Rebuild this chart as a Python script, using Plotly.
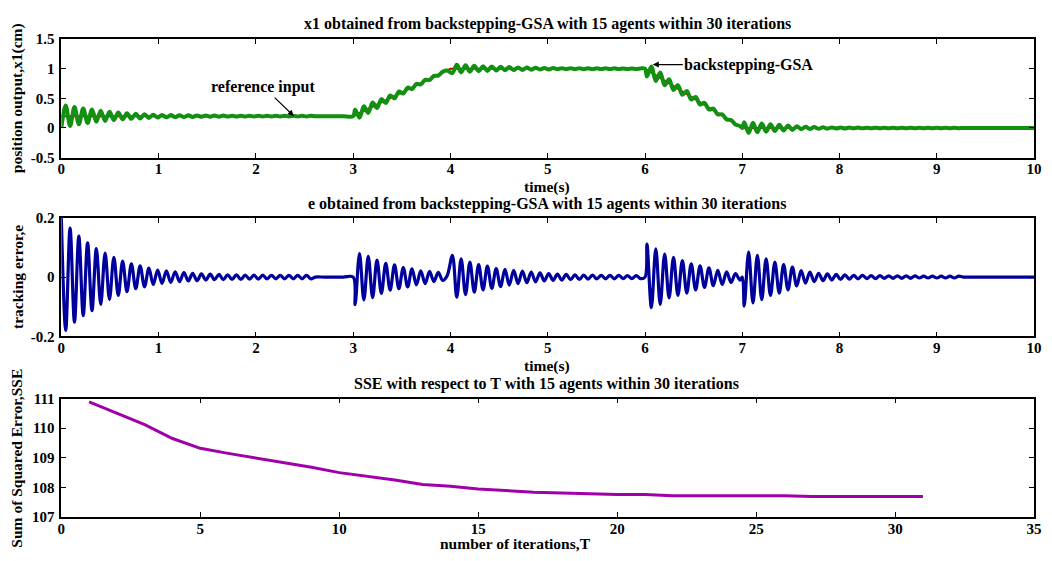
import numpy as np
import plotly.graph_objects as go

W, H = 1052, 561

# ---------------- reference input (set-point) ----------------
ref_t = [0, 3, 4, 6, 7, 10]
ref_v = [0.2, 0.2, 1.0, 1.0, 0.0, 0.0]

# ---------------- tracking error e: extrema ----------------
# each burst: start time, spacing between successive extrema (half period), extremum values
seg1_start, seg1_step = 0.0, 0.045
seg1_vals = [0.2, -0.18, 0.165, -0.152, 0.138, -0.13, 0.116, -0.113, 0.096, -0.092,
             0.081, -0.075, 0.067, -0.062, 0.054, -0.049, 0.045, -0.039, 0.038, -0.033,
             0.030, -0.025, 0.024, -0.021, 0.021, -0.018, 0.018, -0.015, 0.015, -0.013,
             0.013, -0.012, 0.011, -0.010, 0.010, -0.009, 0.009, -0.009, 0.008, -0.008,
             0.008, -0.008, 0.007, -0.007, 0.007, -0.007, 0.007, -0.006, 0.006, -0.006,
             0.006, -0.006, 0.006, -0.006, 0.006, -0.006, 0.006, -0.006, 0.0]

seg2_start, seg2_step = 3.02, 0.045
seg2_vals = [-0.093, 0.079, -0.077, 0.070, -0.069, 0.057, -0.055, 0.046, -0.044, 0.041,
             -0.039, 0.032, -0.033, 0.028, -0.026, 0.021, -0.022, 0.019, -0.015, 0.016,
             -0.011, 0.004]

seg3_start, seg3_step = 4.02, 0.045
seg3_vals = [0.073, -0.068, 0.062, -0.059, 0.051, -0.051, 0.042, -0.043, 0.037, -0.038,
             0.029, -0.032, 0.026, -0.027, 0.023, -0.022, 0.020, -0.019, 0.017, -0.016,
             0.014, -0.013, 0.012, -0.011, 0.010, -0.010, 0.009, -0.009, 0.008, -0.008,
             0.007, -0.007, 0.007, -0.006, 0.006, -0.006, 0.006, -0.006, 0.006, -0.005,
             0.005, -0.005, 0.005, -0.005]

seg4_start, seg4_step = 6.02, 0.0455
seg4_vals = [0.111, -0.103, 0.095, -0.092, 0.078, -0.070, 0.067, -0.062, 0.056, -0.054,
             0.045, -0.043, 0.038, -0.035, 0.031, -0.029, 0.023, -0.025, 0.018, -0.018,
             0.012, -0.010]

seg5_start, seg5_step = 7.02, 0.045
seg5_vals = [-0.098, 0.084, -0.087, 0.073, -0.076, 0.062, -0.062, 0.051, -0.054, 0.042,
             -0.043, 0.034, -0.030, 0.022, -0.020, 0.017, -0.015, 0.013, -0.012, 0.011,
             -0.010, 0.009, -0.008, 0.008, -0.007, 0.006, -0.006, 0.006, -0.005, 0.005,
             -0.005, 0.005, -0.004, 0.004, -0.004, 0.004, -0.004, 0.004, -0.004, 0.004,
             -0.003, 0.003, -0.003, 0.003, -0.003, 0.003, -0.003, 0.003, -0.003, 0.003, 0.0]

# quiet (flat, zero-error) stretches between bursts (time, value)
quiet_t = [2.7, 2.8, 2.9, 3.0, 6.0, 7.0, 9.4, 9.6, 9.8, 10.0]
quiet_v = [0.0, 0.0, 0.0, 0.0, 0.0, 0.0, 0.0, 0.0, 0.0, 0.0]

# ---------------- SSE versus iteration ----------------
sse_T = list(range(1, 32))
sse_v = [110.89, 110.50, 110.12, 109.65, 109.32, 109.15, 108.99, 108.85, 108.68, 108.50,
         108.38, 108.25, 108.10, 108.04, 107.95, 107.89, 107.84, 107.81, 107.78, 107.76,
         107.76, 107.72, 107.72, 107.72, 107.72, 107.72, 107.69, 107.69, 107.69, 107.69,
         107.69]

# ---------------- tick labels ----------------
x_time_ticks = [0, 1, 2, 3, 4, 5, 6, 7, 8, 9, 10]
x_time_text = ["0", "1", "2", "3", "4", "5", "6", "7", "8", "9", "10"]
y1_ticks = [-0.5, 0, 0.5, 1, 1.5]
y1_text = ["-0.5", "0", "0.5", "1", "1.5"]
y2_ticks = [-0.2, 0, 0.2]
y2_text = ["-0.2", "0", "0.2"]
x3_ticks = [0, 5, 10, 15, 20, 25, 30, 35]
x3_text = ["0", "5", "10", "15", "20", "25", "30", "35"]
y3_ticks = [107, 108, 109, 110, 111]
y3_text = ["107", "108", "109", "110", "111"]

# ---------------- assemble error series ----------------
pts = []
for st, sp, vals in [(seg1_start, seg1_step, seg1_vals), (seg2_start, seg2_step, seg2_vals),
                     (seg3_start, seg3_step, seg3_vals), (seg4_start, seg4_step, seg4_vals),
                     (seg5_start, seg5_step, seg5_vals)]:
    for k, v in enumerate(vals):
        pts.append((st + sp * k, v))
pts += list(zip(quiet_t, quiet_v))
pts.sort(key=lambda p: p[0])
e_t = np.array([p[0] for p in pts])
e_v = np.array([p[1] for p in pts])
# position output x1 = reference - e
x1_v = np.interp(e_t, ref_t, ref_v) - e_v

FONT = "Liberation Serif"

def px_x(x):
    return x / W

def px_y(y):
    return 1 - y / H

xdom = [px_x(58), px_x(1042)]
fig = go.Figure()
fig.add_trace(go.Scatter(x=ref_t, y=ref_v, mode="lines", line=dict(color="#c00000", width=2),
                         xaxis="x", yaxis="y", name="reference input"))
fig.add_trace(go.Scatter(x=e_t, y=x1_v, mode="lines",
                         line=dict(color="#119011", width=4, shape="spline", smoothing=1),
                         xaxis="x", yaxis="y", name="backstepping-GSA"))
fig.add_trace(go.Scatter(x=e_t, y=e_v, mode="lines",
                         line=dict(color="#00009c", width=3.2, shape="spline", smoothing=1),
                         xaxis="x2", yaxis="y2", name="e"))
fig.add_trace(go.Scatter(x=sse_T, y=sse_v, mode="lines",
                         line=dict(color="#a000a8", width=3),
                         xaxis="x3", yaxis="y3", name="SSE"))

tickfont = dict(family=FONT, size=15, color="black", weight="bold")
common = dict(showline=True, linecolor="black", linewidth=1.5, mirror="ticks", ticks="inside",
              ticklen=5, tickcolor="black", tickwidth=1, showgrid=False, zeroline=False,
              tickfont=tickfont, tickmode="array")
xcommon = dict(common, ticklabelstandoff=-3)
ycommon = dict(common, ticklabelstandoff=2)

fig.update_layout(
    width=W, height=H, margin=dict(l=0, r=0, t=0, b=0),
    paper_bgcolor="white", plot_bgcolor="white", showlegend=False,
    xaxis=dict(domain=xdom, anchor="y", range=[0, 10], tickvals=x_time_ticks, ticktext=x_time_text, **xcommon),
    yaxis=dict(domain=[px_y(154), px_y(32)], anchor="x", range=[-0.5, 1.5], tickvals=y1_ticks, ticktext=y1_text, **ycommon),
    xaxis2=dict(domain=xdom, anchor="y2", range=[0, 10], tickvals=x_time_ticks, ticktext=x_time_text, **xcommon),
    yaxis2=dict(domain=[px_y(338), px_y(216)], anchor="x2", range=[-0.2, 0.2], tickvals=y2_ticks, ticktext=y2_text, **ycommon),
    xaxis3=dict(domain=xdom, anchor="y3", range=[0, 35], tickvals=x3_ticks, ticktext=x3_text, **xcommon),
    yaxis3=dict(domain=[px_y(524), px_y(402)], anchor="x3", range=[107, 111], tickvals=y3_ticks, ticktext=y3_text, **ycommon),
)

def label(text, x, y, angle=0, size=15.5):
    return dict(text=text, x=px_x(x), y=px_y(y), xref="paper", yref="paper", showarrow=False,
                xanchor="center", yanchor="middle", textangle=angle,
                font=dict(family=FONT, size=size, color="black", weight="bold"))

anns = [
    label("x1 obtained from backstepping-GSA with 15 agents within 30 iterations", 550, 16, size=16),
    label("time(s)", 549, 184),
    label("position output,x1(cm)", 13, 93, angle=-90),
    label("e obtained from backstepping-GSA with 15 agents within 30 iterations", 549, 202, size=16),
    label("time(s)", 549, 368),
    label("tracking error,e", 13, 277, angle=-90),
    label("SSE with respect to T with 15 agents within 30 iterations", 549, 387, size=16),
    label("number of iterations,T", 517, 551),
    label("Sum of Squared Error,SSE", 13, 463, angle=-90),
    dict(text="reference input", x=2.39, y=0.2, xref="x", yref="y", showarrow=True,
         ax=-30, ay=-29, arrowhead=2, arrowsize=1, arrowwidth=1.2, arrowcolor="black",
         font=dict(family=FONT, size=16, color="black", weight="bold")),
    dict(text="backstepping-GSA", x=6.08, y=1.07, xref="x", yref="y", showarrow=True,
         ax=96, ay=0, arrowhead=2, arrowsize=1, arrowwidth=1.2, arrowcolor="black",
         font=dict(family=FONT, size=16, color="black", weight="bold")),
]
fig.update_layout(annotations=anns)

fig.write_html("out.html")
